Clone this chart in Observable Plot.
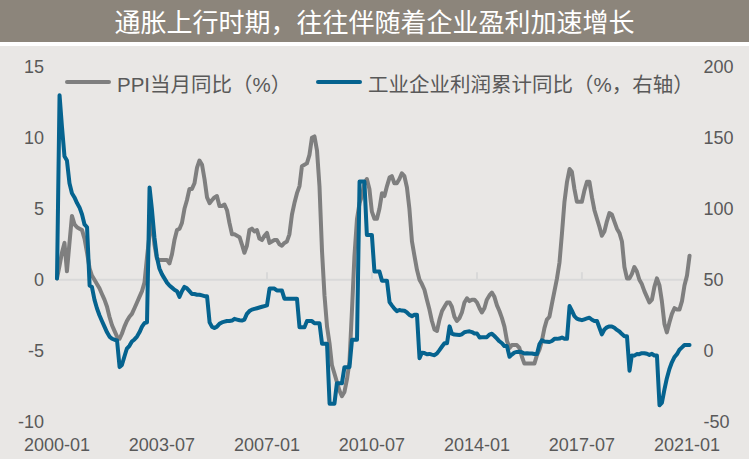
<!DOCTYPE html>
<html><head><meta charset="utf-8">
<script src="https://cdn.jsdelivr.net/npm/d3@7"></script>
<script src="https://cdn.jsdelivr.net/npm/@observablehq/plot@0.6"></script>
<style>
body{margin:0;background:#fff;width:749px;height:459px;overflow:hidden;}
#title{height:42px;background:#8C857B;color:#fff;font:26px "Noto Sans CJK SC";text-align:center;line-height:42px;}
#chart{position:relative;margin-top:4px;width:749px;height:413px;background:#E9E7E5;}
.sw{position:absolute;height:4px;top:34px;width:46px;border-radius:2px;}
.lt{position:absolute;top:22px;line-height:28px;font:20.5px "Liberation Sans","Noto Sans CJK SC";color:#595959;white-space:nowrap;}
</style></head>
<body>
<div id="title">通胀上行时期，往往伴随着企业盈利加速增长</div>
<div id="chart">
  <div class="sw" style="left:65px;background:#7F7F7F"></div>
  <div class="lt" style="left:117px">PPI当月同比（%）</div>
  <div class="sw" style="left:316px;background:#05638F"></div>
  <div class="lt" style="left:368px">工业企业利润累计同比（%，右轴）</div>
</div>
<script>
const startMonth = "2000-01";
const ppiYoY = [
 0.1, 1.0, 1.9, 2.6, 0.6, 2.6, 4.5, 3.9, 3.7, 3.6, 3.5, 2.9,
 1.9, 0.8, 0.3, 0.0, -0.3, -0.6, -1.0, -1.4, -1.9, -2.6, -3.2, -3.6,
 -4.0, -4.15, -3.8, -3.3, -2.9, -2.6, -2.4, -2.0, -1.6, -1.2, -0.8, -0.2,
 1.6, 3.2, 4.3, 2.5, 1.5, 1.4, 1.4, 1.4, 1.4, 1.15, 1.8, 2.8,
 3.5, 3.6, 4.0, 5.0, 5.6, 6.4, 6.4, 6.8, 7.9, 8.4, 8.1, 7.1,
 5.8, 5.4, 5.6, 5.8, 5.9, 5.2, 5.2, 5.3, 4.9, 4.0, 3.2, 3.2,
 3.1, 3.0, 2.5, 1.9, 2.4, 3.5, 3.6, 3.4, 3.5, 2.9, 2.8, 3.1,
 3.3, 2.6, 2.7, 2.8, 2.8, 2.5, 2.4, 2.6, 2.7, 3.2, 4.6, 5.4,
 6.1, 6.6, 8.0, 8.1, 8.2, 8.8, 10.0, 10.1, 9.1, 6.6, 2.0, -1.1,
 -3.3, -4.5, -6.0, -6.6, -7.2, -7.8, -8.2, -7.9, -7.0, -5.8, -2.1, 1.7,
 4.3, 5.4, 5.9, 6.8, 7.1, 6.4, 4.8, 4.3, 4.3, 5.0, 6.1, 5.9,
 6.6, 7.2, 7.3, 6.8, 6.8, 7.1, 7.5, 7.3, 6.5, 5.0, 2.7, 1.7,
 0.7, 0.0, -0.3, -0.7, -1.4, -2.1, -2.9, -3.5, -3.6, -2.8, -2.2, -1.9,
 -1.6, -1.6, -1.9, -2.6, -2.9, -2.7, -2.3, -1.6, -1.3, -1.5, -1.4, -1.4,
 -1.6, -2.0, -2.3, -2.0, -1.4, -1.1, -0.9, -1.2, -1.8, -2.2, -2.7, -3.3,
 -4.3, -4.8, -4.6, -4.6, -4.6, -4.8, -5.4, -5.9, -5.9, -5.9, -5.9, -5.9,
 -5.3, -4.9, -4.3, -3.4, -2.8, -2.6, -1.7, -0.8, 0.1, 1.2, 3.3, 5.5,
 6.9, 7.8, 7.6, 6.4, 5.5, 5.5, 5.5, 6.3, 6.9, 6.9, 5.8, 4.9,
 4.3, 3.7, 3.1, 3.4, 4.1, 4.7, 4.6, 4.1, 3.6, 3.3, 2.7, 0.9,
 0.1, 0.1, 0.4, 0.9, 0.6, 0.0, -0.3, -0.8, -1.2, -1.6, -1.4, -0.5,
 0.1, -0.4, -1.5, -3.1, -3.7, -3.0, -2.4, -2.0, -2.1, -2.1, -1.5, -0.4,
 0.3, 1.7
];
const profitYoY = [
 51, 180, 158, 137, 134, 118, 111, 108, 104, 101, 96, 89,
 87, 46, 45, 36, 30, 25, 21, 17, 13, 10, 8.5, 7.8,
 7.3, -11.5, -10, -4, 1.6, 3.5, 6.5, 8, 10, 13, 17, 19.5,
 20.1, 115, 100, 80, 66, 58, 54, 51, 48, 46, 44.5, 43,
 42, 38, 42, 45, 44, 42, 40, 40, 39.5, 39.5, 39, 38.5,
 38.5, 20, 17, 16, 17, 19, 20, 20.5, 21, 21, 21.3, 22.5,
 22, 21.5, 21.3, 22, 26, 28, 29, 29.5, 30, 30.5, 31, 31.5,
 32, 43.8, 43.8, 43.8, 42.5, 42.5, 42.5, 36.7, 36.7, 36.7, 36.7, 36.7,
 36.7, 16.5, 16.5, 16.5, 20.9, 20.9, 20.9, 19.4, 19.4, 19.4, 4.9, 4.9,
 4.9, -37.3, -37.3, -37.3, -22.9, -22.9, -22.9, -11.5, -11.5, -11.5, 7.8, 7.8,
 7.8, 119.2, 119.2, 119.2, 81.6, 81.6, 81.6, 55.9, 55.9, 55.9, 49.4, 49.4,
 49.4, 34.3, 32.0, 29.7, 27.9, 28.7, 28.3, 28.2, 27.0, 25.3, 24.4, 25.4,
 25.4, -5.2, -1.3, -1.6, -2.4, -2.2, -2.7, -3.1, -1.8, 0.5, 3.0, 5.3,
 5.3, 17.2, 12.1, 11.4, 11.3, 11.1, 11.6, 13.1, 13.5, 13.7, 13.2, 12.2,
 12.2, 9.4, 9.6, 9.6, 9.6, 11.4, 12.0, 10.4, 8.6, 6.7, 5.3, 3.3,
 3.3, -4.2, -2.7, -1.3, -0.8, -0.7, -1.0, -1.9, -1.7, -1.9, -1.9, -2.3,
 -2.3, 4.8, 7.4, 6.5, 6.4, 6.2, 6.9, 8.4, 8.4, 8.6, 9.4, 8.5,
 8.5, 31.5, 28.3, 24.4, 22.7, 22.0, 21.6, 22.2, 22.8, 23.3, 21.9, 21.0,
 21.0, 16.1, 11.6, 15.0, 16.5, 17.2, 17.1, 16.2, 14.7, 13.6, 11.8, 10.3,
 10.3, -14.0, -3.3, -3.4, -2.3, -2.4, -1.7, -1.7, -2.1, -2.9, -2.1, -3.3,
 -3.3, -38.3, -36.7, -27.4, -19.3, -12.8, -8.1, -4.4, -2.4, 0.7, 2.4, 4.1,
 4.1, 4.1
];
const xTickLabels = ["2000-01","2003-07","2007-01","2010-07","2014-01","2017-07","2021-01"];
const leftTicks = [-10, -5, 0, 5, 10, 15];
const rightTicks = [-50, 0, 50, 100, 150, 200];

const parse = d3.utcParse("%Y-%m");
const fmt = d3.utcFormat("%Y-%m");
const t0 = parse(startMonth);
const ppiRows = ppiYoY.map((v, i) => ({date: d3.utcMonth.offset(t0, i), v}));
const profitRows = profitYoY.map((v, i) => ({date: d3.utcMonth.offset(t0, i), v}));
const xTicks = xTickLabels.map(parse);
const toLeft = r => (r - 50) / 10;
const lastDate = ppiRows[ppiRows.length - 1].date;

const chart = Plot.plot({
  width: 749, height: 413,
  marginLeft: 56.5, marginRight: 62.5, marginTop: 20.3, marginBottom: 37.7,
  style: {background: "transparent", fontFamily: "'Liberation Sans', Arial, sans-serif", color: "#595959"},
  x: {type: "utc", domain: [xTicks[0], xTicks[xTicks.length - 1]]},
  y: {domain: [-10, 15]},
  marks: [
    Plot.ruleY([0], {x1: t0, x2: lastDate, stroke: "#D9D9D9", strokeWidth: 2}),
    Plot.ruleX(xTicks, {x: d => d, y1: 0, y2: 0.5, stroke: "#D9D9D9", strokeWidth: 2}),
    Plot.axisY(leftTicks, {anchor: "left", tickSize: 0, tickPadding: 13, tickFormat: d => String(d), fontSize: 18, label: null}),
    Plot.axisY(rightTicks.map(toLeft), {anchor: "right", tickSize: 0, tickPadding: 16.5, tickFormat: v => String(Math.round(v * 10 + 50)), fontSize: 18, label: null}),
    Plot.axisX(xTicks, {anchor: "bottom", tickSize: 0, tickPadding: 16.7, tickFormat: fmt, fontSize: 18, label: null}),
    Plot.lineY(ppiRows, {x: "date", y: "v", stroke: "#7F7F7F", strokeWidth: 4, strokeLinejoin: "round"}),
    Plot.lineY(profitRows, {x: "date", y: d => toLeft(d.v), stroke: "#05638F", strokeWidth: 4, strokeLinejoin: "round"})
  ]
});
chart.style.position = "absolute";
chart.style.left = "0px";
chart.style.top = "0px";
document.getElementById("chart").prepend(chart);
</script>
</body></html>
